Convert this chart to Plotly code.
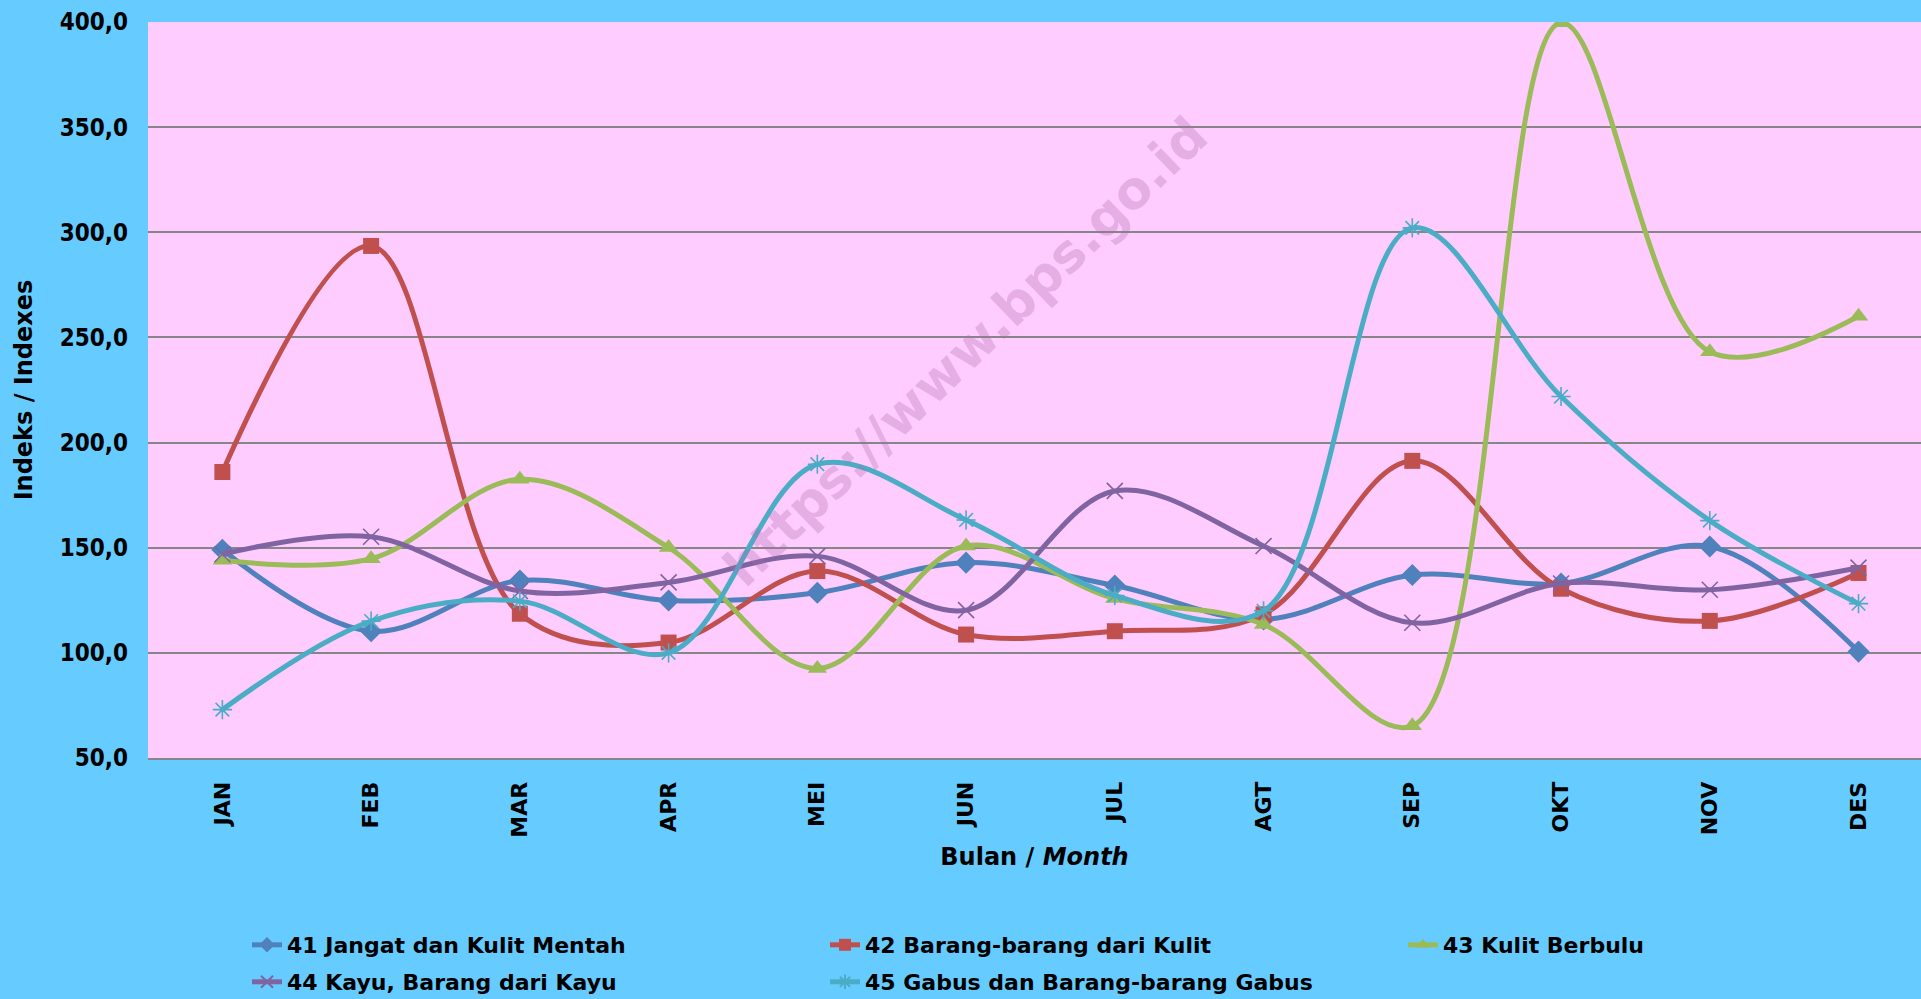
import plotly.graph_objects as go

months = ["JAN", "FEB", "MAR", "APR", "MEI", "JUN", "JUL", "AGT", "SEP", "OKT", "NOV", "DES"]

s41_name = "41 Jangat dan Kulit Mentah"
s41 = [149.0, 110.3, 134.4, 124.9, 128.6, 142.9, 132.0, 115.9, 137.0, 133.0, 150.6, 100.6]

s42_name = "42 Barang-barang dari Kulit"
s42 = [186.0, 293.5, 118.6, 104.9, 138.9, 108.7, 110.3, 118.3, 191.3, 130.5, 115.2, 138.0]

s43_name = "43 Kulit Berbulu"
s43 = [144.0, 144.8, 182.5, 150.1, 92.6, 150.8, 125.8, 113.5, 65.3, 399.6, 243.2, 260.1]

s44_name = "44 Kayu, Barang dari Kayu"
s44 = [146.9, 155.2, 129.4, 133.5, 146.0, 120.3, 177.0, 150.8, 114.3, 133.0, 130.0, 140.5]

s45_name = "45 Gabus dan Barang-barang Gabus"
s45 = [73.0, 115.1, 124.6, 100.0, 189.7, 163.2, 127.3, 120.0, 302.1, 221.9, 162.9, 123.4]

y_ticks = [50, 100, 150, 200, 250, 300, 350, 400]

FONT = "DejaVu Sans, Verdana, sans-serif"
FONT_COND = "DejaVu Sans Condensed, DejaVu Sans, sans-serif"

series = [
    (s41_name, s41, "#4F81BD", "diamond", 17, "legend"),
    (s42_name, s42, "#C0504D", "square", 16, "legend"),
    (s43_name, s43, "#9BBB59", "triangle-up", 17, "legend"),
    (s44_name, s44, "#8064A2", "x-thin", 16, "legend2"),
    (s45_name, s45, "#4BACC6", "asterisk", 16, "legend2"),
]

fig = go.Figure()
for name, vals, color, sym, size, leg in series:
    thin = sym in ("x-thin", "asterisk")
    fig.add_trace(go.Scatter(
        x=months, y=vals, name=name, mode="lines+markers",
        line=dict(color=color, width=5, shape="spline", smoothing=1.0),
        marker=dict(symbol=sym, size=size, color=color,
                    line=dict(color=color, width=1.6 if thin else 0)),
        legend=leg,
    ))

L, R, T, B = 148, 0, 22, 241
W, H = 1921, 999
pw = W - L - R
ph = H - T - B

def px_to_paper_x(px):
    return (px - L) / pw

def px_to_paper_y(py):
    return (H - B - py) / ph

legend_common = dict(
    orientation="h", entrywidth=533, entrywidthmode="pixels",
    xanchor="left", yanchor="middle", bgcolor="rgba(0,0,0,0)",
    font=dict(family=FONT, size=22, color="black", weight="bold"),
    itemsizing="constant",
)

fig.update_layout(
    width=W, height=H,
    margin=dict(l=L, r=R, t=T, b=B, autoexpand=False),
    paper_bgcolor="#66CCFF",
    plot_bgcolor="#FFCCFF",
    separators=",.",
    font=dict(family=FONT, color="black"),
    legend=dict(x=px_to_paper_x(247), y=px_to_paper_y(945), **legend_common),
    legend2=dict(x=px_to_paper_x(247), y=px_to_paper_y(982), **legend_common),
    xaxis=dict(
        type="category", range=[-0.5, 11.42],
        tickangle=-90, ticks="", ticklabelstandoff=13,
        tickfont=dict(family=FONT, size=22, color="black", weight="bold"),
        showgrid=False, showline=True, linecolor="#868686", linewidth=2,
        title=dict(text="Bulan / <i>Month</i>", standoff=12,
                   font=dict(family=FONT, size=24, color="black", weight="bold")),
    ),
    yaxis=dict(
        range=[50, 400], tickvals=y_ticks, tickformat=".1f",
        ticks="", ticklabelstandoff=19,
        tickfont=dict(family=FONT_COND, size=24, color="black", weight="bold"),
        showgrid=True, gridcolor="#868686", gridwidth=2,
        zeroline=False, showline=False,
        title=dict(text="Indeks / Indexes", standoff=20,
                   font=dict(family=FONT, size=24, color="black", weight="bold")),
    ),
    annotations=[dict(
        text="https://www.bps.go.id", xref="paper", yref="paper",
        x=px_to_paper_x(965), y=px_to_paper_y(352),
        xanchor="center", yanchor="middle", showarrow=False, textangle=-44,
        font=dict(family=FONT, size=52, color="rgba(170,110,170,0.30)", weight="bold"),
    )],
)

fig.write_html(
    "out.html",
    config={"displayModeBar": False},
    post_script="document.body.style.margin='0px';document.body.style.overflow='hidden';",
)
